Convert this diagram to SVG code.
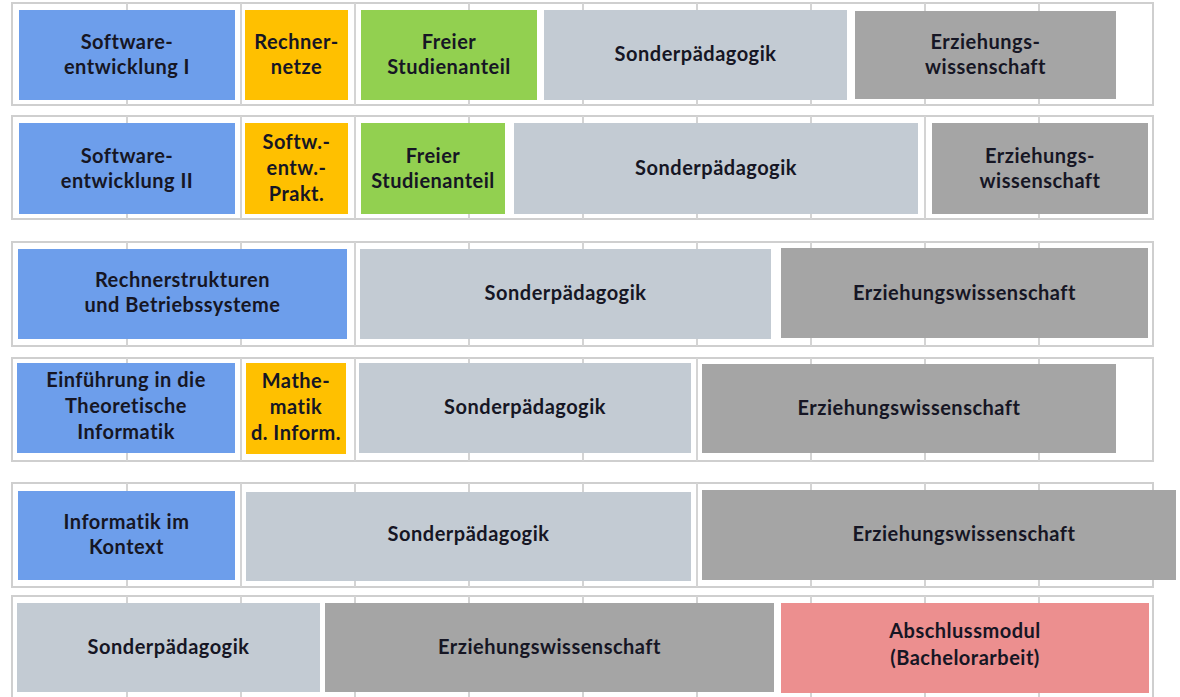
<svg xmlns="http://www.w3.org/2000/svg" width="1180" height="697" viewBox="0 0 1180 697">
  <style>
    .row { fill: #ffffff; stroke: #cfcfcf; stroke-width: 2; }
    .grid line { stroke: #d4d4d4; stroke-width: 2; }
    .inf { fill: #6d9eeb; }
    .aux { fill: #ffc000; }
    .free { fill: #92d050; }
    .sped { fill: #c3cbd3; }
    .edu { fill: #a5a5a5; }
    .thesis { fill: #ec8f8f; }
    text { font-family: Lato, "Open Sans", "Liberation Sans", sans-serif; font-weight: 700; font-size: 20px; letter-spacing: 0.5px; fill: #161624; text-anchor: middle; }
  </style>

  <!-- semester rows -->
  <g id="rows">
    <rect class="row" x="12" y="3" width="1141" height="102"/>
    <rect class="row" x="12" y="116" width="1141" height="103"/>
    <rect class="row" x="12" y="242" width="1141" height="104"/>
    <rect class="row" x="12" y="358" width="1141" height="103"/>
    <rect class="row" x="12" y="483" width="1141" height="104"/>
    <rect class="row" x="12" y="596" width="1141" height="106"/>
  </g>

  <!-- credit grid columns -->
  <g class="grid">
    <g id="grid-r1">
      <line x1="127" y1="3" x2="127" y2="105"/><line x1="241" y1="3" x2="241" y2="105"/><line x1="355" y1="3" x2="355" y2="105"/>
      <line x1="469" y1="3" x2="469" y2="105"/><line x1="583" y1="3" x2="583" y2="105"/><line x1="697" y1="3" x2="697" y2="105"/>
      <line x1="811" y1="3" x2="811" y2="105"/><line x1="925" y1="3" x2="925" y2="105"/><line x1="1039" y1="3" x2="1039" y2="105"/>
    </g>
    <g id="grid-r2">
      <line x1="127" y1="116" x2="127" y2="219"/><line x1="241" y1="116" x2="241" y2="219"/><line x1="355" y1="116" x2="355" y2="219"/>
      <line x1="469" y1="116" x2="469" y2="219"/><line x1="583" y1="116" x2="583" y2="219"/><line x1="697" y1="116" x2="697" y2="219"/>
      <line x1="811" y1="116" x2="811" y2="219"/><line x1="925" y1="116" x2="925" y2="219"/><line x1="1039" y1="116" x2="1039" y2="219"/>
    </g>
    <g id="grid-r3">
      <line x1="127" y1="242" x2="127" y2="346"/><line x1="241" y1="242" x2="241" y2="346"/><line x1="355" y1="242" x2="355" y2="346"/>
      <line x1="469" y1="242" x2="469" y2="346"/><line x1="583" y1="242" x2="583" y2="346"/><line x1="697" y1="242" x2="697" y2="346"/>
      <line x1="811" y1="242" x2="811" y2="346"/><line x1="925" y1="242" x2="925" y2="346"/><line x1="1039" y1="242" x2="1039" y2="346"/>
    </g>
    <g id="grid-r4">
      <line x1="127" y1="358" x2="127" y2="461"/><line x1="241" y1="358" x2="241" y2="461"/><line x1="355" y1="358" x2="355" y2="461"/>
      <line x1="469" y1="358" x2="469" y2="461"/><line x1="583" y1="358" x2="583" y2="461"/><line x1="697" y1="358" x2="697" y2="461"/>
      <line x1="811" y1="358" x2="811" y2="461"/><line x1="925" y1="358" x2="925" y2="461"/><line x1="1039" y1="358" x2="1039" y2="461"/>
    </g>
    <g id="grid-r5">
      <line x1="127" y1="483" x2="127" y2="587"/><line x1="241" y1="483" x2="241" y2="587"/><line x1="355" y1="483" x2="355" y2="587"/>
      <line x1="469" y1="483" x2="469" y2="587"/><line x1="583" y1="483" x2="583" y2="587"/><line x1="697" y1="483" x2="697" y2="587"/>
      <line x1="811" y1="483" x2="811" y2="587"/><line x1="925" y1="483" x2="925" y2="587"/><line x1="1039" y1="483" x2="1039" y2="587"/>
    </g>
    <g id="grid-r6">
      <line x1="127" y1="596" x2="127" y2="702"/><line x1="241" y1="596" x2="241" y2="702"/><line x1="355" y1="596" x2="355" y2="702"/>
      <line x1="469" y1="596" x2="469" y2="702"/><line x1="583" y1="596" x2="583" y2="702"/><line x1="697" y1="596" x2="697" y2="702"/>
      <line x1="811" y1="596" x2="811" y2="702"/><line x1="925" y1="596" x2="925" y2="702"/><line x1="1039" y1="596" x2="1039" y2="702"/>
    </g>
  </g>

  <!-- Semester 1 -->
  <g id="s1-swe1">
    <rect class="inf" x="19" y="10" width="216" height="90"/>
    <text><tspan x="127" y="49">Software-</tspan><tspan x="127" y="74">entwicklung I</tspan></text>
  </g>
  <g id="s1-netze">
    <rect class="aux" x="245" y="10" width="103" height="90"/>
    <text><tspan x="296.5" y="49">Rechner-</tspan><tspan x="296.5" y="74">netze</tspan></text>
  </g>
  <g id="s1-frei">
    <rect class="free" x="361" y="10" width="176" height="90"/>
    <text><tspan x="449" y="49">Freier</tspan><tspan x="449" y="74">Studienanteil</tspan></text>
  </g>
  <g id="s1-sped">
    <rect class="sped" x="544" y="10" width="303" height="90"/>
    <text x="695.5" y="61">Sonderpädagogik</text>
  </g>
  <g id="s1-edu">
    <rect class="edu" x="855" y="11" width="261" height="88"/>
    <text><tspan x="985.5" y="49">Erziehungs-</tspan><tspan x="985.5" y="74">wissenschaft</tspan></text>
  </g>

  <!-- Semester 2 -->
  <g id="s2-swe2">
    <rect class="inf" x="19" y="123" width="216" height="91"/>
    <text><tspan x="127" y="163">Software-</tspan><tspan x="127" y="188">entwicklung II</tspan></text>
  </g>
  <g id="s2-praktikum">
    <rect class="aux" x="245" y="123" width="103" height="91"/>
    <text><tspan x="296.5" y="149">Softw.-</tspan><tspan x="296.5" y="175">entw.-</tspan><tspan x="296.5" y="201">Prakt.</tspan></text>
  </g>
  <g id="s2-frei">
    <rect class="free" x="361" y="123" width="144" height="91"/>
    <text><tspan x="433" y="163">Freier</tspan><tspan x="433" y="188">Studienanteil</tspan></text>
  </g>
  <g id="s2-sped">
    <rect class="sped" x="514" y="123" width="404" height="91"/>
    <text x="716" y="175">Sonderpädagogik</text>
  </g>
  <g id="s2-edu">
    <rect class="edu" x="932" y="123" width="216" height="91"/>
    <text><tspan x="1040" y="163">Erziehungs-</tspan><tspan x="1040" y="188">wissenschaft</tspan></text>
  </g>

  <!-- Semester 3 -->
  <g id="s3-rsbs">
    <rect class="inf" x="18" y="249" width="329" height="90"/>
    <text><tspan x="182.5" y="287">Rechnerstrukturen</tspan><tspan x="182.5" y="312">und Betriebssysteme</tspan></text>
  </g>
  <g id="s3-sped">
    <rect class="sped" x="360" y="249" width="411" height="90"/>
    <text x="565.5" y="300">Sonderpädagogik</text>
  </g>
  <g id="s3-edu">
    <rect class="edu" x="781" y="248" width="367" height="90"/>
    <text x="964.5" y="300">Erziehungswissenschaft</text>
  </g>

  <!-- Semester 4 -->
  <g id="s4-thinf">
    <rect class="inf" x="17" y="363" width="218" height="90"/>
    <text><tspan x="126" y="387">Einführung in die</tspan><tspan x="126" y="413">Theoretische</tspan><tspan x="126" y="439">Informatik</tspan></text>
  </g>
  <g id="s4-mathe">
    <rect class="aux" x="246" y="363" width="100" height="91"/>
    <text><tspan x="296" y="388">Mathe-</tspan><tspan x="296" y="414">matik</tspan><tspan x="296" y="440">d. Inform.</tspan></text>
  </g>
  <g id="s4-sped">
    <rect class="sped" x="359" y="363" width="332" height="90"/>
    <text x="525" y="414">Sonderpädagogik</text>
  </g>
  <g id="s4-edu">
    <rect class="edu" x="702" y="364" width="414" height="89"/>
    <text x="909" y="415">Erziehungswissenschaft</text>
  </g>

  <!-- Semester 5 -->
  <g id="s5-kontext">
    <rect class="inf" x="18" y="491" width="217" height="89"/>
    <text><tspan x="126.5" y="529">Informatik im</tspan><tspan x="126.5" y="554">Kontext</tspan></text>
  </g>
  <g id="s5-sped">
    <rect class="sped" x="246" y="492" width="445" height="89"/>
    <text x="468.5" y="541">Sonderpädagogik</text>
  </g>
  <g id="s5-edu">
    <rect class="edu" x="702" y="490" width="474" height="90"/>
    <text x="964" y="541">Erziehungswissenschaft</text>
  </g>

  <!-- Semester 6 -->
  <g id="s6-sped">
    <rect class="sped" x="17" y="603" width="303" height="89"/>
    <text x="168.5" y="654">Sonderpädagogik</text>
  </g>
  <g id="s6-edu">
    <rect class="edu" x="325" y="603" width="449" height="89"/>
    <text x="549.5" y="654">Erziehungswissenschaft</text>
  </g>
  <g id="s6-thesis">
    <rect class="thesis" x="781" y="603" width="368" height="90"/>
    <text><tspan x="965" y="638">Abschlussmodul</tspan><tspan x="965" y="665">(Bachelorarbeit)</tspan></text>
  </g>
</svg>
